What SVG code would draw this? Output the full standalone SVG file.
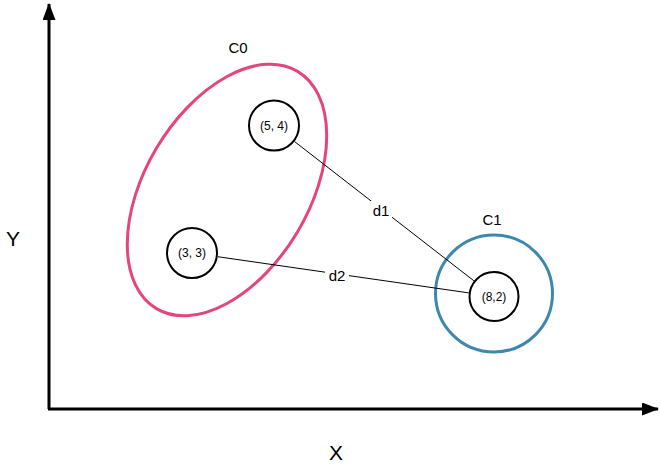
<svg xmlns="http://www.w3.org/2000/svg" width="661" height="471" viewBox="0 0 661 471">
<style>
  text { font-family: "Liberation Sans", Arial, Helvetica, sans-serif; fill: #000; text-anchor: middle; dominant-baseline: central; }
  .axis { stroke: #000; stroke-width: 3; fill: none; }
  .pt { fill: #fff; stroke: #000; stroke-width: 2; }
  .lbl { font-size: 12px; }
  .big { font-size: 21px; }
  .mid { font-size: 15px; }
  .edge { stroke: #000; stroke-width: 1; fill: none; }
  .bg { fill: #fff; }
</style>
<defs>
  <marker id="arr" viewBox="0 0 17 13" refX="16" refY="6.5" markerWidth="17" markerHeight="13" markerUnits="userSpaceOnUse" orient="auto">
    <path d="M0,0 L17,6.5 L0,13 Z" fill="#000"/>
  </marker>
</defs>
<rect width="661" height="471" fill="#fff"/>
<g id="axes">
  <line class="axis" x1="49" y1="409" x2="49" y2="4" marker-end="url(#arr)"/>
  <line class="axis" x1="48" y1="409" x2="658" y2="409" marker-end="url(#arr)"/>
  <text class="big" x="13" y="238">Y</text>
  <text class="big" x="336" y="452">X</text>
</g>
<g id="cluster-C0">
  <ellipse cx="227" cy="190" rx="82" ry="138" transform="rotate(30.75 227 190)" fill="none" stroke="#E4457C" stroke-width="3"/>
  <text class="mid" x="238" y="47">C0</text>
</g>
<g id="cluster-C1">
  <circle cx="494" cy="293.5" r="58.5" fill="none" stroke="#3D88AE" stroke-width="3"/>
  <text class="mid" x="492" y="219">C1</text>
</g>
<g id="connectors">
  <line class="edge" x1="294.5" y1="141.5" x2="473.9" y2="280.8"/>
  <line class="edge" x1="217.7" y1="256.7" x2="468.8" y2="292.9"/>
  <rect class="bg" x="370" y="201" width="22" height="18"/>
  <text class="mid" x="381" y="210">d1</text>
  <rect class="bg" x="325" y="266" width="24" height="18"/>
  <text class="mid" x="337" y="275">d2</text>
</g>
<g id="node-5-4">
  <circle class="pt" cx="274" cy="125.5" r="25"/>
  <text class="lbl" x="274" y="125.5">(5, 4)</text>
</g>
<g id="node-3-3">
  <circle class="pt" cx="192" cy="253" r="25"/>
  <text class="lbl" x="192" y="253">(3, 3)</text>
</g>
<g id="node-8-2">
  <circle class="pt" cx="494" cy="296.5" r="24.5"/>
  <text class="lbl" x="494" y="296.5">(8,2)</text>
</g>
</svg>
